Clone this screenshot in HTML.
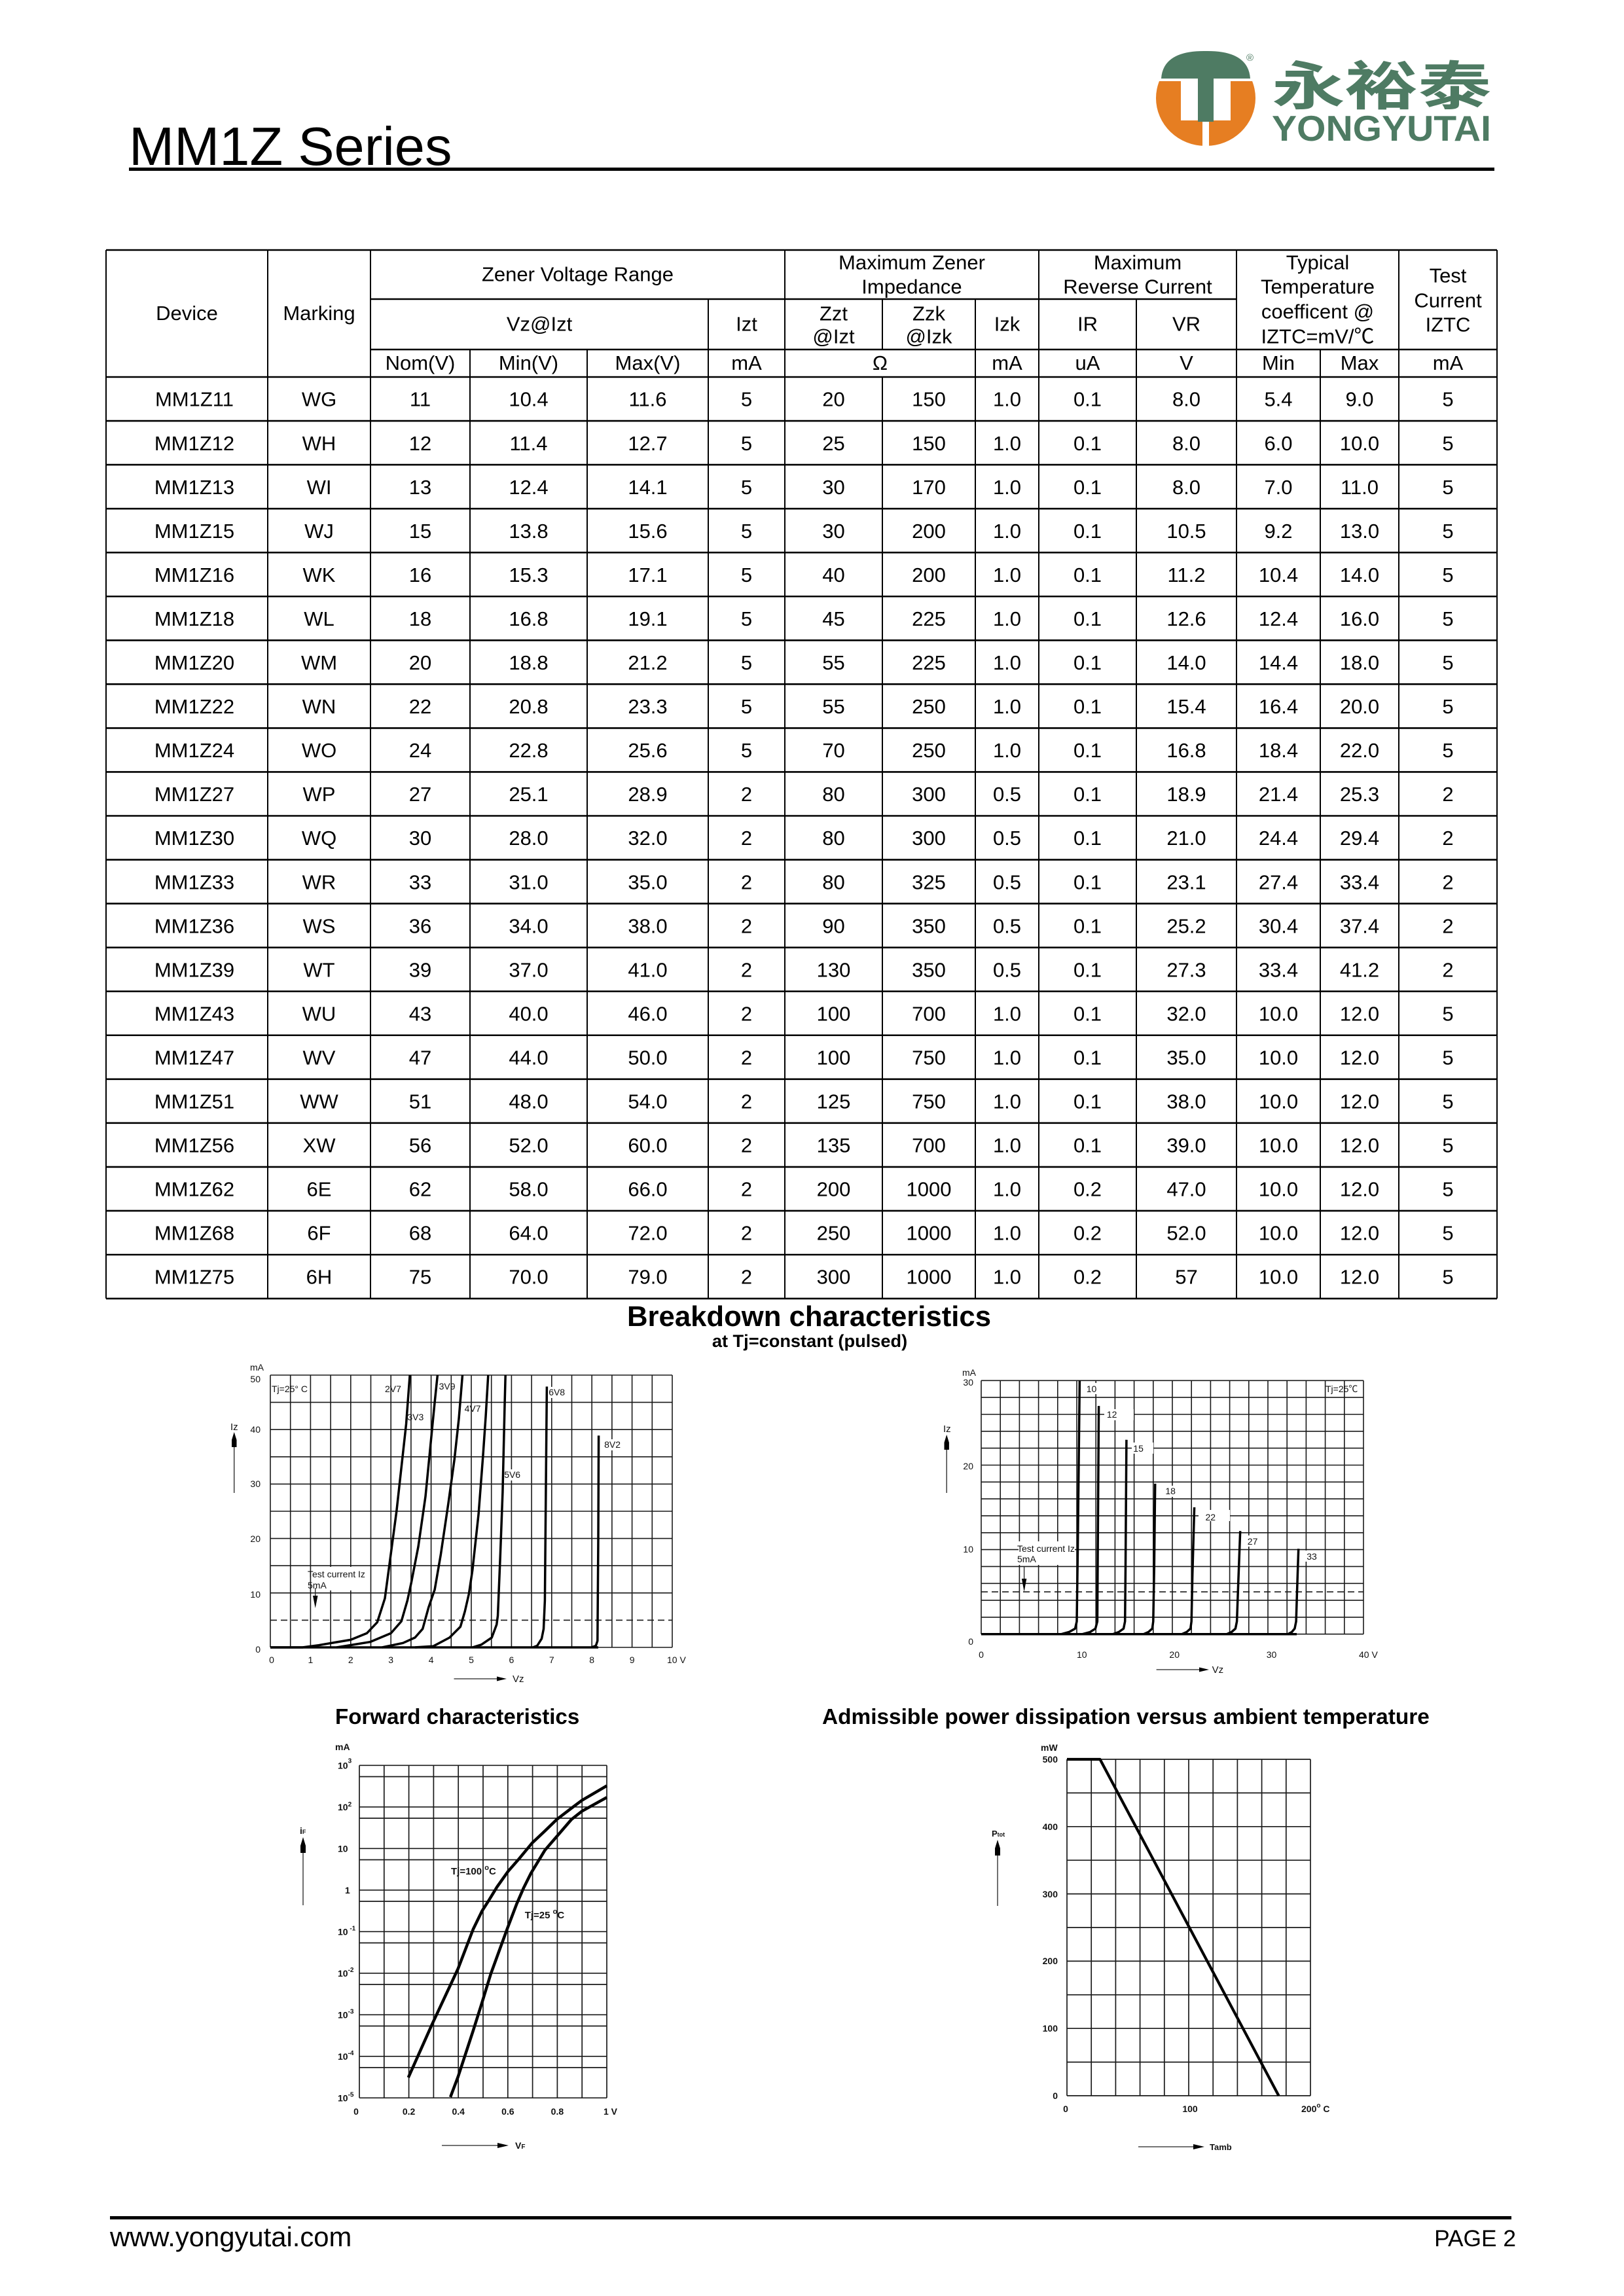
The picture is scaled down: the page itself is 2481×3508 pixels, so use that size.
<!DOCTYPE html>
<html>
<head>
<meta charset="utf-8">
<style>
html,body{margin:0;padding:0;background:#fff;}
body{width:2481px;height:3508px;position:relative;overflow:hidden;}
svg{position:absolute;left:0;top:0;}
</style>
</head>
<body>
<svg width="2481" height="3508" viewBox="0 0 2481 3508" xmlns="http://www.w3.org/2000/svg" font-family="'Liberation Sans', Arial, 'Noto Sans CJK SC', sans-serif" fill="#000">

<!-- Title -->
<text x="197" y="252" font-size="83">MM1Z Series</text>
<rect x="197" y="256" width="2086" height="5" fill="#000"/>

<!-- Logo -->
<defs><clipPath id="lc"><rect x="1760" y="124" width="170" height="110"/></clipPath></defs>
<ellipse cx="1842" cy="150" rx="76" ry="73" fill="#e67e22" clip-path="url(#lc)"/>
<rect x="1804" y="122" width="76" height="62" fill="#fff"/>
<path d="M1774 120 Q1777 77 1842 78 Q1907 77 1910 120 Z" fill="#4e7b63"/>
<rect x="1830" y="112" width="24" height="74" fill="#4e7b63"/>
<rect x="1837" y="186" width="10" height="40" fill="#fff"/>
<text x="1904" y="93" font-size="15" fill="#4e7b63">®</text>
<text x="1943" y="160" font-size="80" font-weight="bold" fill="#4e7b63" font-family="'Noto Sans CJK SC', sans-serif" textLength="335" lengthAdjust="spacingAndGlyphs">永裕泰</text>
<text x="1943" y="215" font-size="55" font-weight="bold" fill="#4e7b63" textLength="335" lengthAdjust="spacingAndGlyphs">YONGYUTAI</text>

<!-- Table lines -->
<path fill="none" stroke="#000" stroke-width="2.6" d="M162 382H2287M566 457H1889M566 534H2287M162 576H2287M162 643.05H2287M162 710.1H2287M162 777.15H2287M162 844.2H2287M162 911.25H2287M162 978.3H2287M162 1045.35H2287M162 1112.4H2287M162 1179.45H2287M162 1246.5H2287M162 1313.55H2287M162 1380.6H2287M162 1447.65H2287M162 1514.7H2287M162 1581.75H2287M162 1648.8H2287M162 1715.85H2287M162 1782.9H2287M162 1849.95H2287M162 1917H2287M162 1984.05H2287"/>
<path fill="none" stroke="#000" stroke-width="2" d="M162 382V1984M2287 382V1984M409 382V1984M566 382V1984M718 534V1984M897 534V1984M1082 457V1984M1199 382V1984M1348 457V534M1348 576V1984M1490 457V1984M1587 382V1984M1736 457V1984M1889 382V1984M2017 534V1984M2137 382V1984"/>

<!-- Table header text -->
<g font-size="31" text-anchor="middle">
<text x="285.5" y="489">Device</text>
<text x="487.5" y="489">Marking</text>
<text x="882.5" y="429.5">Zener Voltage Range</text>
<text x="824" y="505.5">Vz@Izt</text>
<text x="1140.5" y="505.5">Izt</text>
<text x="642" y="565">Nom(V)</text>
<text x="807.5" y="565">Min(V)</text>
<text x="989.5" y="565">Max(V)</text>
<text x="1140.5" y="565">mA</text>
<text x="1393" y="411.5">Maximum Zener</text>
<text x="1393" y="448.5">Impedance</text>
<text x="1273.5" y="489.5">Zzt</text>
<text x="1273.5" y="524.5">@Izt</text>
<text x="1419" y="489.5">Zzk</text>
<text x="1419" y="524.5">@Izk</text>
<text x="1538.5" y="505.5">Izk</text>
<text x="1738" y="411.5">Maximum</text>
<text x="1738" y="448.5">Reverse Current</text>
<text x="1661.5" y="505.5">IR</text>
<text x="1812.5" y="505.5">VR</text>
<text x="2013" y="411.5">Typical</text>
<text x="2013" y="448.5">Temperature</text>
<text x="2013" y="486.5">coefficent @</text>
<text x="2013" y="524.5">IZTC=mV/℃</text>
<text x="2212" y="431.5">Test</text>
<text x="2212" y="469.5">Current</text>
<text x="2212" y="506.5">IZTC</text>
<text x="1344.5" y="565">Ω</text>
<text x="1538.5" y="565">mA</text>
<text x="1661.5" y="565">uA</text>
<text x="1812.5" y="565">V</text>
<text x="1953" y="565">Min</text>
<text x="2077" y="565">Max</text>
<text x="2212" y="565">mA</text>
</g>

<!-- Table data -->
<g font-size="31" text-anchor="middle">
<g transform="translate(0,620.7)"><text x="297">MM1Z11</text><text x="487.5">WG</text><text x="642">11</text><text x="807.5">10.4</text><text x="989.5">11.6</text><text x="1140.5">5</text><text x="1273.5">20</text><text x="1419">150</text><text x="1538.5">1.0</text><text x="1661.5">0.1</text><text x="1812.5">8.0</text><text x="1953">5.4</text><text x="2077">9.0</text><text x="2212">5</text></g>
<g transform="translate(0,687.75)"><text x="297">MM1Z12</text><text x="487.5">WH</text><text x="642">12</text><text x="807.5">11.4</text><text x="989.5">12.7</text><text x="1140.5">5</text><text x="1273.5">25</text><text x="1419">150</text><text x="1538.5">1.0</text><text x="1661.5">0.1</text><text x="1812.5">8.0</text><text x="1953">6.0</text><text x="2077">10.0</text><text x="2212">5</text></g>
<g transform="translate(0,754.8)"><text x="297">MM1Z13</text><text x="487.5">WI</text><text x="642">13</text><text x="807.5">12.4</text><text x="989.5">14.1</text><text x="1140.5">5</text><text x="1273.5">30</text><text x="1419">170</text><text x="1538.5">1.0</text><text x="1661.5">0.1</text><text x="1812.5">8.0</text><text x="1953">7.0</text><text x="2077">11.0</text><text x="2212">5</text></g>
<g transform="translate(0,821.85)"><text x="297">MM1Z15</text><text x="487.5">WJ</text><text x="642">15</text><text x="807.5">13.8</text><text x="989.5">15.6</text><text x="1140.5">5</text><text x="1273.5">30</text><text x="1419">200</text><text x="1538.5">1.0</text><text x="1661.5">0.1</text><text x="1812.5">10.5</text><text x="1953">9.2</text><text x="2077">13.0</text><text x="2212">5</text></g>
<g transform="translate(0,888.9)"><text x="297">MM1Z16</text><text x="487.5">WK</text><text x="642">16</text><text x="807.5">15.3</text><text x="989.5">17.1</text><text x="1140.5">5</text><text x="1273.5">40</text><text x="1419">200</text><text x="1538.5">1.0</text><text x="1661.5">0.1</text><text x="1812.5">11.2</text><text x="1953">10.4</text><text x="2077">14.0</text><text x="2212">5</text></g>
<g transform="translate(0,955.95)"><text x="297">MM1Z18</text><text x="487.5">WL</text><text x="642">18</text><text x="807.5">16.8</text><text x="989.5">19.1</text><text x="1140.5">5</text><text x="1273.5">45</text><text x="1419">225</text><text x="1538.5">1.0</text><text x="1661.5">0.1</text><text x="1812.5">12.6</text><text x="1953">12.4</text><text x="2077">16.0</text><text x="2212">5</text></g>
<g transform="translate(0,1023)"><text x="297">MM1Z20</text><text x="487.5">WM</text><text x="642">20</text><text x="807.5">18.8</text><text x="989.5">21.2</text><text x="1140.5">5</text><text x="1273.5">55</text><text x="1419">225</text><text x="1538.5">1.0</text><text x="1661.5">0.1</text><text x="1812.5">14.0</text><text x="1953">14.4</text><text x="2077">18.0</text><text x="2212">5</text></g>
<g transform="translate(0,1090.05)"><text x="297">MM1Z22</text><text x="487.5">WN</text><text x="642">22</text><text x="807.5">20.8</text><text x="989.5">23.3</text><text x="1140.5">5</text><text x="1273.5">55</text><text x="1419">250</text><text x="1538.5">1.0</text><text x="1661.5">0.1</text><text x="1812.5">15.4</text><text x="1953">16.4</text><text x="2077">20.0</text><text x="2212">5</text></g>
<g transform="translate(0,1157.1)"><text x="297">MM1Z24</text><text x="487.5">WO</text><text x="642">24</text><text x="807.5">22.8</text><text x="989.5">25.6</text><text x="1140.5">5</text><text x="1273.5">70</text><text x="1419">250</text><text x="1538.5">1.0</text><text x="1661.5">0.1</text><text x="1812.5">16.8</text><text x="1953">18.4</text><text x="2077">22.0</text><text x="2212">5</text></g>
<g transform="translate(0,1224.15)"><text x="297">MM1Z27</text><text x="487.5">WP</text><text x="642">27</text><text x="807.5">25.1</text><text x="989.5">28.9</text><text x="1140.5">2</text><text x="1273.5">80</text><text x="1419">300</text><text x="1538.5">0.5</text><text x="1661.5">0.1</text><text x="1812.5">18.9</text><text x="1953">21.4</text><text x="2077">25.3</text><text x="2212">2</text></g>
<g transform="translate(0,1291.2)"><text x="297">MM1Z30</text><text x="487.5">WQ</text><text x="642">30</text><text x="807.5">28.0</text><text x="989.5">32.0</text><text x="1140.5">2</text><text x="1273.5">80</text><text x="1419">300</text><text x="1538.5">0.5</text><text x="1661.5">0.1</text><text x="1812.5">21.0</text><text x="1953">24.4</text><text x="2077">29.4</text><text x="2212">2</text></g>
<g transform="translate(0,1358.25)"><text x="297">MM1Z33</text><text x="487.5">WR</text><text x="642">33</text><text x="807.5">31.0</text><text x="989.5">35.0</text><text x="1140.5">2</text><text x="1273.5">80</text><text x="1419">325</text><text x="1538.5">0.5</text><text x="1661.5">0.1</text><text x="1812.5">23.1</text><text x="1953">27.4</text><text x="2077">33.4</text><text x="2212">2</text></g>
<g transform="translate(0,1425.3)"><text x="297">MM1Z36</text><text x="487.5">WS</text><text x="642">36</text><text x="807.5">34.0</text><text x="989.5">38.0</text><text x="1140.5">2</text><text x="1273.5">90</text><text x="1419">350</text><text x="1538.5">0.5</text><text x="1661.5">0.1</text><text x="1812.5">25.2</text><text x="1953">30.4</text><text x="2077">37.4</text><text x="2212">2</text></g>
<g transform="translate(0,1492.35)"><text x="297">MM1Z39</text><text x="487.5">WT</text><text x="642">39</text><text x="807.5">37.0</text><text x="989.5">41.0</text><text x="1140.5">2</text><text x="1273.5">130</text><text x="1419">350</text><text x="1538.5">0.5</text><text x="1661.5">0.1</text><text x="1812.5">27.3</text><text x="1953">33.4</text><text x="2077">41.2</text><text x="2212">2</text></g>
<g transform="translate(0,1559.4)"><text x="297">MM1Z43</text><text x="487.5">WU</text><text x="642">43</text><text x="807.5">40.0</text><text x="989.5">46.0</text><text x="1140.5">2</text><text x="1273.5">100</text><text x="1419">700</text><text x="1538.5">1.0</text><text x="1661.5">0.1</text><text x="1812.5">32.0</text><text x="1953">10.0</text><text x="2077">12.0</text><text x="2212">5</text></g>
<g transform="translate(0,1626.45)"><text x="297">MM1Z47</text><text x="487.5">WV</text><text x="642">47</text><text x="807.5">44.0</text><text x="989.5">50.0</text><text x="1140.5">2</text><text x="1273.5">100</text><text x="1419">750</text><text x="1538.5">1.0</text><text x="1661.5">0.1</text><text x="1812.5">35.0</text><text x="1953">10.0</text><text x="2077">12.0</text><text x="2212">5</text></g>
<g transform="translate(0,1693.5)"><text x="297">MM1Z51</text><text x="487.5">WW</text><text x="642">51</text><text x="807.5">48.0</text><text x="989.5">54.0</text><text x="1140.5">2</text><text x="1273.5">125</text><text x="1419">750</text><text x="1538.5">1.0</text><text x="1661.5">0.1</text><text x="1812.5">38.0</text><text x="1953">10.0</text><text x="2077">12.0</text><text x="2212">5</text></g>
<g transform="translate(0,1760.55)"><text x="297">MM1Z56</text><text x="487.5">XW</text><text x="642">56</text><text x="807.5">52.0</text><text x="989.5">60.0</text><text x="1140.5">2</text><text x="1273.5">135</text><text x="1419">700</text><text x="1538.5">1.0</text><text x="1661.5">0.1</text><text x="1812.5">39.0</text><text x="1953">10.0</text><text x="2077">12.0</text><text x="2212">5</text></g>
<g transform="translate(0,1827.6)"><text x="297">MM1Z62</text><text x="487.5">6E</text><text x="642">62</text><text x="807.5">58.0</text><text x="989.5">66.0</text><text x="1140.5">2</text><text x="1273.5">200</text><text x="1419">1000</text><text x="1538.5">1.0</text><text x="1661.5">0.2</text><text x="1812.5">47.0</text><text x="1953">10.0</text><text x="2077">12.0</text><text x="2212">5</text></g>
<g transform="translate(0,1894.65)"><text x="297">MM1Z68</text><text x="487.5">6F</text><text x="642">68</text><text x="807.5">64.0</text><text x="989.5">72.0</text><text x="1140.5">2</text><text x="1273.5">250</text><text x="1419">1000</text><text x="1538.5">1.0</text><text x="1661.5">0.2</text><text x="1812.5">52.0</text><text x="1953">10.0</text><text x="2077">12.0</text><text x="2212">5</text></g>
<g transform="translate(0,1961.7)"><text x="297">MM1Z75</text><text x="487.5">6H</text><text x="642">75</text><text x="807.5">70.0</text><text x="989.5">79.0</text><text x="1140.5">2</text><text x="1273.5">300</text><text x="1419">1000</text><text x="1538.5">1.0</text><text x="1661.5">0.2</text><text x="1812.5">57</text><text x="1953">10.0</text><text x="2077">12.0</text><text x="2212">5</text></g>
</g>

<!-- Section titles -->
<text x="1236" y="2026" font-size="43.7" font-weight="bold" text-anchor="middle">Breakdown characteristics</text>
<text x="1237" y="2058" font-size="27.2" font-weight="bold" text-anchor="middle">at Tj=constant (pulsed)</text>
<text x="512" y="2634" font-size="33.1" font-weight="bold">Forward characteristics</text>
<text x="1256" y="2634" font-size="33.4" font-weight="bold">Admissible power dissipation versus ambient temperature</text>

<!-- ============ LEFT BREAKDOWN CHART ============ -->
<g fill="none" stroke="#1a1a1a" stroke-width="1.6">
<path d="M413 2101V2517M443.7 2101V2517M474.4 2101V2517M505.1 2101V2517M535.8 2101V2517M566.5 2101V2517M597.2 2101V2517M627.9 2101V2517M658.6 2101V2517M689.3 2101V2517M720 2101V2517M750.7 2101V2517M781.4 2101V2517M812.1 2101V2517M842.8 2101V2517M873.5 2101V2517M904.2 2101V2517M934.9 2101V2517M965.6 2101V2517M996.3 2101V2517M1027 2101V2517"/>
<path d="M413 2101H1027M413 2142.6H1027M413 2184.2H1027M413 2225.8H1027M413 2267.4H1027M413 2309H1027M413 2350.6H1027M413 2392.2H1027M413 2433.8H1027M413 2517H1027"/>
<path d="M413 2475.4H1027" stroke-dasharray="10,6"/>
</g>
<g fill="#fff">
<rect x="476" y="2394" width="87" height="36"/>
<rect x="768" y="2245" width="30" height="17"/>
<rect x="836" y="2119" width="30" height="17"/>
<rect x="921" y="2199" width="30" height="17"/>
</g>
<g fill="none" stroke="#000" stroke-width="3.5" stroke-linejoin="round">
<path d="M413 2517H914"/>
<polyline points="413,2517 462.1,2517 486.7,2513.7 511.2,2509.5 535.8,2505.4 560.4,2495.4 576.3,2478.7 588,2442.1 594.7,2392.2 605.8,2309 615,2225.8 620.5,2175.9 626.1,2101"/>
<polyline points="514.3,2517 565.3,2508.7 597.2,2495.4 613.2,2477.1 622.4,2445.4 628.5,2417.2 639,2363.1 650,2286.5 659.2,2192.5 664.1,2142.6 668.4,2101"/>
<polyline points="583.7,2517 615.6,2510.3 634,2502 645.7,2488.7 654.9,2455.4 664.1,2428.8 673.3,2375.6 685,2296.5 694.2,2230 701,2167.6 706.5,2101"/>
<polyline points="634,2517 661.7,2515.3 686.8,2502 703.4,2485.4 710.2,2462.1 716.3,2435.5 721.8,2398.9 731.1,2313.2 737.8,2225.8 742.1,2163.4 745.8,2101"/>
<polyline points="721.8,2517 735.4,2512.8 751.3,2502 758.7,2482.1 760.5,2468.7 764.2,2378.9 767.9,2279.9 771,2146.8 772.2,2101"/>
<polyline points="814,2517 820.7,2514.5 827.5,2503.7 830.5,2488.7 832.4,2445.4 833.6,2313.2 835.4,2118.5"/>
<polyline points="903.6,2517 910.3,2514.5 912.8,2507 914,2346.4 914.6,2193.4"/>
</g>
<g font-size="14" fill="#111">
<text x="382" y="2094">mA</text>
<g text-anchor="end">
<text x="398" y="2112">50</text>
<text x="398" y="2189">40</text>
<text x="398" y="2272">30</text>
<text x="398" y="2356">20</text>
<text x="398" y="2441">10</text>
<text x="398" y="2525">0</text>
</g>
<g text-anchor="middle">
<text x="415" y="2541">0</text>
<text x="474.4" y="2541">1</text>
<text x="535.8" y="2541">2</text>
<text x="597.2" y="2541">3</text>
<text x="658.6" y="2541">4</text>
<text x="720" y="2541">5</text>
<text x="781.4" y="2541">6</text>
<text x="842.8" y="2541">7</text>
<text x="904.2" y="2541">8</text>
<text x="965.6" y="2541">9</text>
</g>
<text x="1019" y="2541">10 V</text>
<text x="415" y="2127">Tj=25° C</text>
<text x="588" y="2127">2V7</text>
<text x="622.4" y="2170">3V3</text>
<text x="670.6" y="2123">3V9</text>
<text x="709.6" y="2157">4V7</text>
<text x="770.2" y="2258">5V6</text>
<text x="838.2" y="2132">6V8</text>
<text x="923.1" y="2212">8V2</text>
<text x="470" y="2410">Test current Iz</text>
<text x="470" y="2427">5mA</text>
<text x="352" y="2185" font-size="15">Iz</text>
<text x="783" y="2570" font-size="15">Vz</text>
</g>
<g stroke="#222" stroke-width="1.3">
<path d="M357.7 2208V2281"/>
<path d="M693.5 2565H761"/>
<path d="M481.7 2426V2445"/>
</g>
<polygon points="354,2211 361.5,2211 361.5,2200 357.7,2188 354,2200" fill="#000"/>
<polygon points="759,2561.5 774,2565 759,2568.5" fill="#000"/>
<polygon points="478,2438 485.5,2438 481.7,2457" fill="#000"/>

<!-- ============ RIGHT BREAKDOWN CHART ============ -->
<g fill="none" stroke="#1a1a1a" stroke-width="1.6">
<path d="M1499 2109.3V2496.7M1528.2 2109.3V2496.7M1557.4 2109.3V2496.7M1586.6 2109.3V2496.7M1615.8 2109.3V2496.7M1645 2109.3V2496.7M1674.2 2109.3V2496.7M1703.4 2109.3V2496.7M1732.6 2109.3V2496.7M1761.8 2109.3V2496.7M1791 2109.3V2496.7M1820.2 2109.3V2496.7M1849.4 2109.3V2496.7M1878.6 2109.3V2496.7M1907.8 2109.3V2496.7M1937 2109.3V2496.7M1966.2 2109.3V2496.7M1995.4 2109.3V2496.7M2024.6 2109.3V2496.7M2053.8 2109.3V2496.7M2083 2109.3V2496.7"/>
<path d="M1499 2109.3H2083M1499 2135.1H2083M1499 2161H2083M1499 2186.8H2083M1499 2212.6H2083M1499 2238.5H2083M1499 2264.3H2083M1499 2290.1H2083M1499 2315.9H2083M1499 2341.8H2083M1499 2367.6H2083M1499 2393.4H2083M1499 2419.3H2083M1499 2445.1H2083M1499 2470.9H2083M1499 2496.7H2083"/>
<path d="M1499 2432.2H2083" stroke-dasharray="10,6"/>
</g>
<g fill="#fff">
<rect x="1556" y="2355" width="86" height="36"/>
<rect x="1656" y="2113" width="22" height="17"/>
<rect x="1687" y="2153" width="45" height="17"/>
<rect x="1729" y="2204" width="33" height="17"/>
<rect x="1777" y="2270" width="22" height="17"/>
<rect x="1831" y="2307" width="48" height="17"/>
<rect x="1902" y="2346" width="22" height="17"/>
<rect x="1993" y="2369" width="22" height="17"/>
</g>
<g fill="none" stroke="#000" stroke-width="3.5" stroke-linejoin="round">
<path d="M1499 2496.7H1981"/>
<polyline points="1499,2496.7 1621.6,2496.7 1633.3,2493.5 1642.5,2488.3 1645,2477.3 1646.5,2367.6 1649.4,2109.4"/>
<polyline points="1653.8,2496.7 1665.4,2493.5 1673.5,2488.3 1676.4,2477.3 1677.1,2367.6 1678.6,2148.1"/>
<polyline points="1700.5,2496.7 1709.2,2493.5 1716.5,2488.3 1718.7,2477.3 1719.5,2393.4 1720.9,2199.8"/>
<polyline points="1747.2,2496.7 1754.5,2493.5 1760.3,2488.3 1761.8,2477.3 1763.3,2393.4 1764.7,2266.9"/>
<polyline points="1805.6,2496.7 1812.9,2493.5 1818.7,2488.3 1820.2,2477.3 1821.7,2406.3 1824.6,2303"/>
<polyline points="1874.2,2496.7 1881.5,2493.5 1887.4,2488.3 1889.6,2477.3 1891.7,2419.2 1894.7,2339.2"/>
<polyline points="1967.7,2496.7 1973.5,2493.5 1977.9,2488.3 1980.1,2477.3 1981.5,2432.1 1983.7,2366.3"/>
</g>
<g font-size="14" fill="#111">
<text x="1470" y="2102">mA</text>
<g text-anchor="end">
<text x="1487" y="2117">30</text>
<text x="1487" y="2245">20</text>
<text x="1487" y="2372">10</text>
<text x="1487" y="2513">0</text>
</g>
<g text-anchor="middle">
<text x="1499" y="2533">0</text>
<text x="1652.8" y="2533">10</text>
<text x="1794.2" y="2533">20</text>
<text x="1942.5" y="2533">30</text>
</g>
<text x="2076" y="2533">40 V</text>
<text x="2025" y="2127">Tj=25℃</text>
<text x="1659.7" y="2127">10</text>
<text x="1690.9" y="2166">12</text>
<text x="1731.3" y="2218">15</text>
<text x="1780.4" y="2283">18</text>
<text x="1841.5" y="2323">22</text>
<text x="1905.8" y="2360">27</text>
<text x="1996.2" y="2383">33</text>
<text x="1554" y="2371">Test current Iz</text>
<text x="1554" y="2387">5mA</text>
<text x="1441" y="2188" font-size="15">Iz</text>
<text x="1851.6" y="2556" font-size="15">Vz</text>
</g>
<g stroke="#222" stroke-width="1.3">
<path d="M1446.2 2212V2281"/>
<path d="M1766.6 2551H1833"/>
<path d="M1564.6 2393V2415"/>
</g>
<polygon points="1442.5,2215 1449.9,2215 1449.9,2204 1446.2,2192 1442.5,2204" fill="#000"/>
<polygon points="1832,2547.5 1847,2551 1832,2554.5" fill="#000"/>
<polygon points="1560.9,2412 1568.3,2412 1564.6,2432" fill="#000"/>

<!-- ============ FORWARD CHARACTERISTICS ============ -->
<g fill="none" stroke="#1a1a1a" stroke-width="1.7">
<path d="M549 2697.3V3205.3M586.8 2697.3V3205.3M624.6 2697.3V3205.3M662.4 2697.3V3205.3M700.2 2697.3V3205.3M738 2697.3V3205.3M775.8 2697.3V3205.3M813.6 2697.3V3205.3M851.4 2697.3V3205.3M889.2 2697.3V3205.3M927 2697.3V3205.3"/>
<path d="M549 2697.3H927M549 2760.8H927M549 2824.3H927M549 2887.8H927M549 2951.3H927M549 3014.8H927M549 3078.3H927M549 3141.8H927M549 3205.3H927"/>
<path d="M549 2714.5H927M549 2778H927M549 2841.5H927M549 2905H927M549 2968.5H927M549 3032H927M549 3095.5H927M549 3159H927"/>
</g>
<g fill="none" stroke="#000" stroke-width="4.5" stroke-linejoin="round">
<polyline points="623.8,3174.2 659.8,3093.5 699.8,3007.8 722.9,2947.5 736.5,2919.6 746.3,2904.3 759.5,2882.7 776.2,2859.2 792.8,2840.2 812.8,2816 831,2798.9 850.6,2779.9 873,2762.7 889.2,2750.6 927,2728.4"/>
<polyline points="688.1,3204 699.8,3172.9 722.9,3102.4 736.5,3059.3 749.7,3016.1 774.7,2947.5 789.4,2908.8 799.6,2885.3 811.3,2861.8 832.5,2826.8 850.6,2805.9 873,2779.9 889.2,2767.2 927,2746.2"/>
</g>
<g font-size="14" font-weight="bold" fill="#111">
<text x="512" y="2674">mA</text>
<text x="516" y="2702.3">10<tspan dy="-9" font-size="10">3</tspan></text>
<text x="516" y="2765.8">10<tspan dy="-6" font-size="10">2</tspan></text>
<text x="516" y="2829.3">10</text>
<text x="527" y="2892.8">1</text>
<text x="516" y="2956.3">10<tspan dy="-7" font-size="10"> -1</tspan></text>
<text x="516" y="3019.8">10<tspan dy="-7" font-size="10">-2</tspan></text>
<text x="516" y="3083.3">10<tspan dy="-7" font-size="10">-3</tspan></text>
<text x="516" y="3146.8">10<tspan dy="-7" font-size="10">-4</tspan></text>
<text x="516" y="3210.3">10<tspan dy="-7" font-size="10">-5</tspan></text>
<g text-anchor="middle">
<text x="544" y="3231">0</text>
<text x="624.6" y="3231">0.2</text>
<text x="700.2" y="3231">0.4</text>
<text x="775.8" y="3231">0.6</text>
<text x="851.4" y="3231">0.8</text>
</g>
<text x="922" y="3231">1 V</text>
<text x="689" y="2864" font-size="15">Tj=100 <tspan dy="-7" font-size="11">o</tspan><tspan dy="7">C</tspan></text>
<text x="801.7" y="2931" font-size="15">Tj=25 <tspan dy="-7" font-size="11">o</tspan><tspan dy="7">C</tspan></text>
<text x="787" y="3283">V<tspan font-size="10">F</tspan></text>
<text x="458" y="2802">i<tspan font-size="9">F</tspan></text>
</g>
<g stroke="#222" stroke-width="1.3">
<path d="M675 3278H762"/>
<path d="M463 2828V2911"/>
</g>
<polygon points="760,3274 777,3278 760,3282" fill="#000"/>
<polygon points="459,2831 467,2831 467,2820 463,2807 459,2820" fill="#000"/>

<!-- ============ POWER DISSIPATION ============ -->
<g fill="none" stroke="#1a1a1a" stroke-width="1.7">
<path d="M1630 2688V3202M1667.2 2688V3202M1704.4 2688V3202M1741.6 2688V3202M1778.8 2688V3202M1816 2688V3202M1853.2 2688V3202M1890.4 2688V3202M1927.6 2688V3202M1964.8 2688V3202M2002 2688V3202"/>
<path d="M1630 2688H2002M1630 2739.4H2002M1630 2790.8H2002M1630 2842.2H2002M1630 2893.6H2002M1630 2945H2002M1630 2996.4H2002M1630 3047.8H2002M1630 3099.2H2002M1630 3150.6H2002M1630 3202H2002"/>
</g>
<polyline points="1630,2688 1680.5,2688 1953.5,3202" fill="none" stroke="#000" stroke-width="4.2" stroke-linejoin="round"/>
<g font-size="14" font-weight="bold" fill="#111">
<text x="1590" y="2675">mW</text>
<g text-anchor="end">
<text x="1616" y="2693">500</text>
<text x="1616" y="2796">400</text>
<text x="1616" y="2899">300</text>
<text x="1616" y="3001">200</text>
<text x="1616" y="3104">100</text>
<text x="1616" y="3207">0</text>
</g>
<text x="1628" y="3227" text-anchor="middle">0</text>
<text x="1818" y="3227" text-anchor="middle">100</text>
<text x="1988" y="3227">200<tspan dy="-7" font-size="10">o</tspan><tspan dy="7"> C</tspan></text>
<text x="1848" y="3285" font-size="13">Tamb</text>
<text x="1515" y="2806" font-size="13">P<tspan font-size="9">tot</tspan></text>
</g>
<g stroke="#222" stroke-width="1.3">
<path d="M1739 3280H1825"/>
<path d="M1524 2832V2912"/>
</g>
<polygon points="1823,3276 1840,3280 1823,3284" fill="#000"/>
<polygon points="1520,2835 1528,2835 1528,2824 1524,2811 1520,2824" fill="#000"/>

<!-- Footer -->
<rect x="168" y="3386" width="2141" height="5" fill="#000"/>
<text x="168" y="3432" font-size="41.8">www.yongyutai.com</text>
<text x="2316" y="3432" font-size="35.3" text-anchor="end">PAGE 2</text>

</svg>
</body>
</html>
